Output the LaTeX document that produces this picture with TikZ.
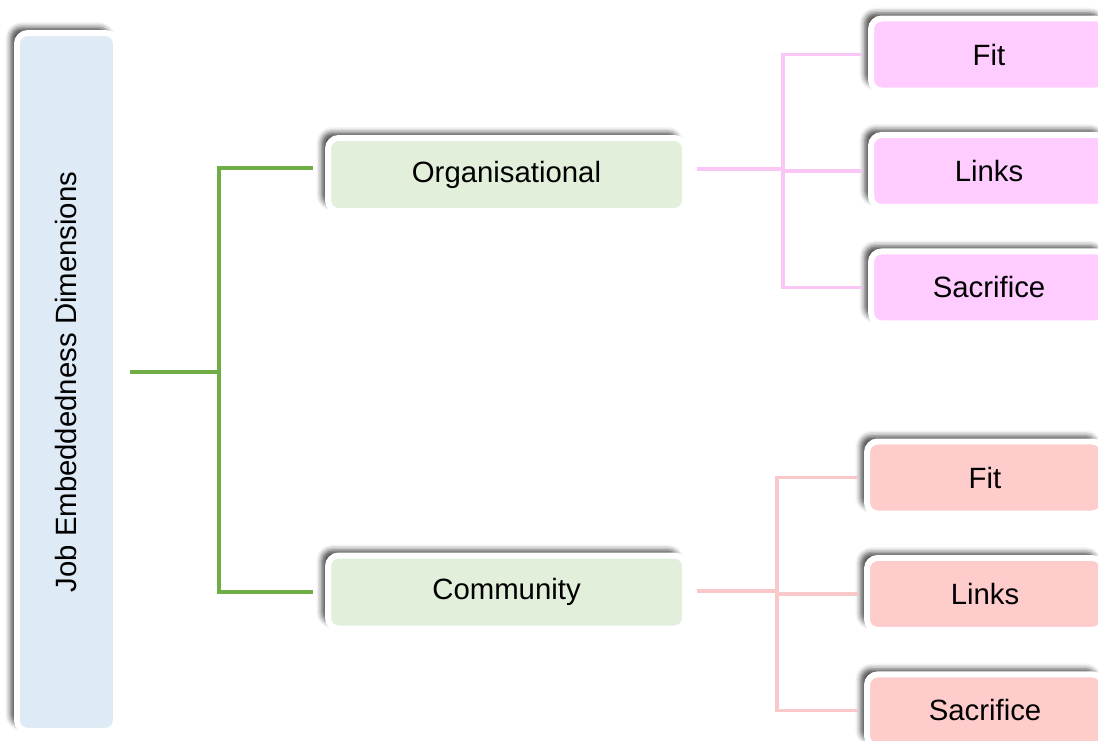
\documentclass[tikz,border=0pt]{standalone}
\usepackage{fontspec}
\setmainfont{Liberation Sans}
\usepackage{graphicx}
\usetikzlibrary{positioning, shadows.blur}

\definecolor{rootblue}{HTML}{DEEAF6}
\definecolor{dimgreen}{HTML}{E2EFDA}
\definecolor{linegreen}{HTML}{70AD47}
\definecolor{orgpink}{HTML}{FFCCFF}
\definecolor{orgline}{HTML}{F9C6F6}
\definecolor{compink}{HTML}{FFCCCC}
\definecolor{comline}{HTML}{F9C8C8}

\tikzset{
  box/.style={rectangle, rounded corners=6pt, draw=white, line width=3.4pt,
    inner sep=0pt, font=\fontsize{16.7}{20}\selectfont,
    blur shadow={shadow xshift=-3.6pt, shadow yshift=3.2pt,
      shadow blur radius=3pt, shadow opacity=70}},
  rootbox/.style={box, fill=rootblue, minimum width=1.98cm, minimum height=13.96cm},
  dimbox/.style={box, fill=dimgreen, minimum width=7.14cm, minimum height=1.46cm},
  orgleaf/.style={box, fill=orgpink, minimum width=4.72cm, minimum height=1.44cm},
  comleaf/.style={box, fill=compink, minimum width=4.72cm, minimum height=1.44cm},
  branch/.style={line width=2.1pt}
}

\begin{document}
\begin{tikzpicture}[x=0.02cm, y=-0.02cm, node distance=2.33cm, on grid]
  \useasboundingbox (0,0) rectangle (1098,740);

  \node[rootbox] (root) at (66.5,382) {\rotatebox{90}{Job Embeddedness Dimensions}\hspace{6pt}};
  \node[dimbox] (org) at (506.5,174.5) {Organisational};
  \node[dimbox] (com) at (506.5,592) {Community};

  \node[orgleaf] (ofit) at (989,54.5) {Fit};
  \node[orgleaf] (olinks) [below=of ofit] {Links};
  \node[orgleaf] (osacr) [below=of olinks] {Sacrifice};

  \node[comleaf] (cfit) at (985,477.5) {Fit};
  \node[comleaf] (clinks) [below=of cfit] {Links};
  \node[comleaf] (csacr) [below=of clinks] {Sacrifice};

  % connectors
  \coordinate (rootout) at (130,372);
  \coordinate (gsplit) at (219,372);
  \coordinate (osplit) at (783,169);
  \coordinate (csplit) at (777,591);

  \draw[branch, linegreen] (rootout) -- (gsplit);
  \draw[branch, linegreen, shorten >=6.8pt] (gsplit) |- ([yshift=3.7pt]org.west);
  \draw[branch, linegreen, shorten >=6.8pt] (gsplit) |- (com.west);

  \draw[branch, orgline, shorten <=5pt] (org.east |- osplit) -- (osplit);
  \foreach \leaf in {ofit, olinks, osacr}
    \draw[branch, orgline, shorten >=3.4pt] (osplit) |- (\leaf.west);

  \draw[branch, comline, shorten <=5pt] (com.east |- csplit) -- (csplit);
  \foreach \leaf in {cfit, clinks, csacr}
    \draw[branch, comline, shorten >=3.4pt] (csplit) |- (\leaf.west);
\end{tikzpicture}
\end{document}
